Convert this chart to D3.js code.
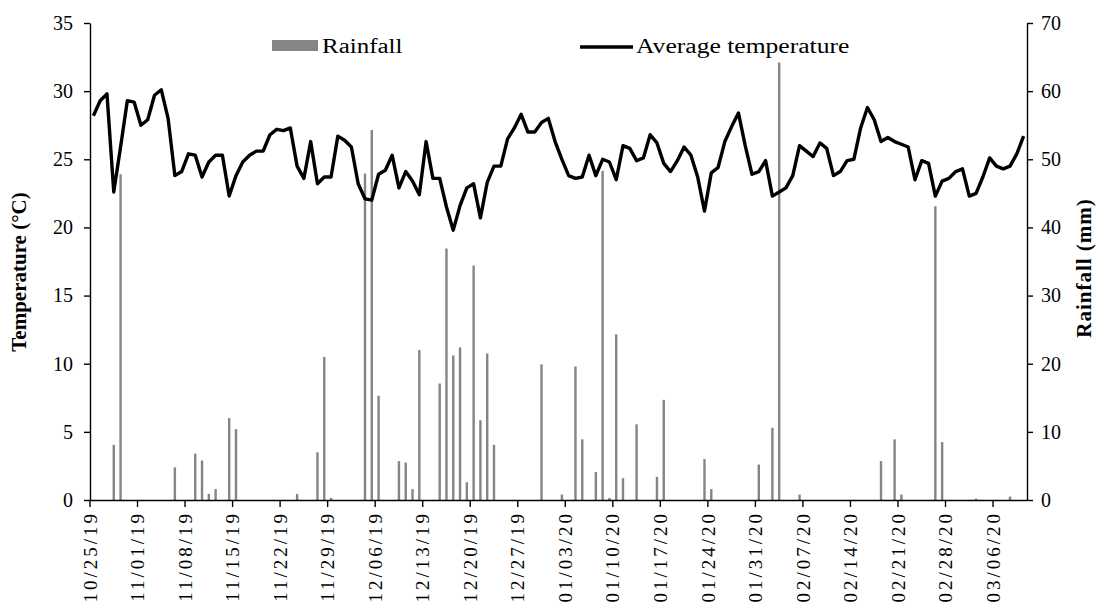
<!DOCTYPE html>
<html>
<head>
<meta charset="utf-8">
<script src="https://cdn.jsdelivr.net/npm/d3@7"></script>
<style>
  body { margin: 0; background: #fff; }
  svg { display: block; }
  text { font-family: "Liberation Serif", "Times New Roman", serif; fill: #000; }
</style>
</head>
<body>
<div id="chart"></div>
<script>
// daily categories start here, one per day
const startDate = "2019-10-25";
const dayCount = 138;
const tickLabels = ["10/25/19", "11/01/19", "11/08/19", "11/15/19", "11/22/19", "11/29/19", "12/06/19",
    "12/13/19", "12/20/19", "12/27/19", "01/03/20", "01/10/20", "01/17/20", "01/24/20", "01/31/20",
    "02/07/20", "02/14/20", "02/21/20", "02/28/20", "03/06/20"];

// average temperature (°C), one value per day
const temperature = [
    28.2, 29.3, 29.8, 22.6, 25.9, 29.3, 29.2, 27.5, 27.9, 29.7,
    30.1, 28.0, 23.8, 24.1, 25.4, 25.3, 23.7, 24.8, 25.3, 25.3,
    22.3, 23.8, 24.8, 25.3, 25.6, 25.6, 26.8, 27.2, 27.1, 27.3,
    24.5, 23.6, 26.3, 23.2, 23.7, 23.7, 26.7, 26.4, 25.9, 23.2,
    22.1, 22.0, 23.9, 24.2, 25.3, 22.9, 24.1, 23.4, 22.4, 26.3,
    23.6, 23.6, 21.5, 19.8, 21.6, 22.9, 23.2, 20.7, 23.3, 24.5,
    24.5, 26.5, 27.3, 28.3, 27.0, 27.0, 27.7, 28.0, 26.3, 25.0,
    23.8, 23.6, 23.7, 25.3, 23.8, 25.0, 24.8, 23.5, 26.0, 25.8,
    24.9, 25.1, 26.8, 26.2, 24.7, 24.1, 24.9, 25.9, 25.3, 23.7,
    21.2, 24.0, 24.4, 26.3, 27.4, 28.4, 26.0, 23.9, 24.1, 24.9,
    22.3, 22.6, 22.9, 23.8, 26.0, 25.6, 25.2, 26.2, 25.8, 23.8,
    24.1, 24.9, 25.0, 27.3, 28.8, 27.9, 26.3, 26.6, 26.3, 26.1,
    25.9, 23.5, 24.9, 24.7, 22.3, 23.4, 23.6, 24.1, 24.3, 22.3,
    22.5, 23.7, 25.1, 24.5, 24.3, 24.5, 25.4, 26.7
];

// rainfall (mm): day index from start, amount
const rainDay = [3, 4, 12, 15, 16, 17, 18, 20, 21, 30, 33, 34, 35, 40, 41, 42, 45, 46, 47, 48,
    51, 52, 53, 54, 55, 56, 57, 58, 59, 66, 69, 71, 72, 74, 75, 76, 77, 78, 80, 83,
    84, 90, 91, 98, 100, 101, 104, 116, 118, 119, 124, 125, 130, 135];
const rainMm = [8.1, 47.8, 4.8, 6.8, 5.8, 0.9, 1.6, 12.0, 10.4, 0.9, 7.0, 21.0, 0.3, 47.9, 54.3, 15.3, 5.7, 5.5, 1.6, 22.0,
    17.1, 36.9, 21.2, 22.4, 2.6, 34.4, 11.7, 21.5, 8.1, 19.9, 0.8, 19.6, 8.9, 4.1, 48.3, 0.3, 24.3, 3.2, 11.1, 3.4,
    14.7, 6.0, 1.6, 5.2, 10.6, 64.2, 0.8, 5.7, 8.9, 0.8, 43.1, 8.5, 0.2, 0.5];

const width = 1101, height = 605;
const plot = { left: 90, right: 1027, top: 23, bottom: 500 };

const parse = d3.timeParse("%Y-%m-%d");
const fmt = d3.timeFormat("%m/%d/%y");
const days = d3.range(dayCount).map(i => fmt(d3.timeDay.offset(parse(startDate), i)));

const svg = d3.select("#chart")
    .append("svg")
    .attr("width", width)
    .attr("height", height);

const x = d3.scaleBand()
    .domain(days)
    .range([plot.left, plot.right])
    .padding(0);
const bw = x.bandwidth();

const yTemp = d3.scaleLinear().domain([0, 35]).range([plot.bottom, plot.top]);
const yRain = d3.scaleLinear().domain([0, 70]).range([plot.bottom, plot.top]);

// rainfall bars
const rain = rainDay.map((d, i) => ({ day: days[d], mm: rainMm[i] }));
const barW = 2.4;
svg.append("g")
    .selectAll("rect")
    .data(rain)
    .join("rect")
    .attr("x", d => x(d.day) + bw / 2 - barW / 2)
    .attr("y", d => yRain(d.mm))
    .attr("width", barW)
    .attr("height", d => plot.bottom - yRain(d.mm))
    .attr("fill", "#858585");

// temperature line
const line = d3.line()
    .x((d, i) => x(days[i]) + bw / 2)
    .y(d => yTemp(d));

svg.append("path")
    .datum(temperature)
    .attr("d", line)
    .attr("fill", "none")
    .attr("stroke", "#000")
    .attr("stroke-width", 3.4)
    .attr("stroke-linejoin", "round");

// axes
const styleAxis = g => {
    g.selectAll(".domain").attr("stroke", "#000").attr("stroke-width", 1.4);
    g.selectAll(".tick line").attr("stroke", "#000").attr("stroke-width", 1.4);
    g.selectAll("text").style("font-size", "20px").attr("fill", "#000");
};

svg.append("g")
    .attr("transform", `translate(${plot.left},0)`)
    .call(d3.axisLeft(yTemp).tickValues(d3.range(0, 36, 5)).tickSize(6).tickSizeOuter(0).tickPadding(11))
    .call(styleAxis);

svg.append("g")
    .attr("transform", `translate(${plot.right},0)`)
    .call(d3.axisRight(yRain).tickValues(d3.range(0, 71, 10)).tickSize(6).tickSizeOuter(0).tickPadding(8))
    .call(styleAxis);

// ticks sit on category boundaries, so shift the band axis by half a band
const tickDays = days.filter((d, i) => i % 7 === 0);
const xAxis = svg.append("g")
    .attr("transform", `translate(${-bw / 2},${plot.bottom})`)
    .call(d3.axisBottom(x).tickValues(tickDays).tickSize(7).tickSizeOuter(0)
        .tickFormat((d, i) => tickLabels[i]))
    .call(styleAxis);
xAxis.select(".domain").attr("transform", `translate(${bw / 2},0)`);
xAxis.selectAll(".tick text")
    .attr("transform", "rotate(-90)")
    .attr("x", -11)
    .attr("y", 0)
    .attr("dy", "0.35em")
    .style("font-size", "19px")
    .style("text-anchor", "end")
    .style("letter-spacing", "3px");

// axis titles
svg.append("text")
    .attr("transform", `translate(26,272) rotate(-90)`)
    .style("text-anchor", "middle")
    .style("font-size", "21px")
    .style("font-weight", "bold")
    .text("Temperature (°C)");

svg.append("text")
    .attr("transform", `translate(1091,268) rotate(-90)`)
    .style("text-anchor", "middle")
    .style("font-size", "21px")
    .style("font-weight", "bold")
    .style("letter-spacing", "1px")
    .text("Rainfall (mm)");

// legend, glyphs are drawn a little wide like the reference
const legend = svg.append("g");
legend.append("rect")
    .attr("x", 272).attr("y", 40)
    .attr("width", 46).attr("height", 11)
    .attr("fill", "#858585");
legend.append("text")
    .attr("transform", "translate(322,53) scale(1.25,1)")
    .style("font-size", "20px")
    .text("Rainfall");
legend.append("line")
    .attr("x1", 580).attr("x2", 633)
    .attr("y1", 47).attr("y2", 47)
    .attr("stroke", "#000").attr("stroke-width", 3.4);
legend.append("text")
    .attr("transform", "translate(636,53) scale(1.28,1)")
    .style("font-size", "20px")
    .text("Average temperature");
</script>
</body>
</html>
